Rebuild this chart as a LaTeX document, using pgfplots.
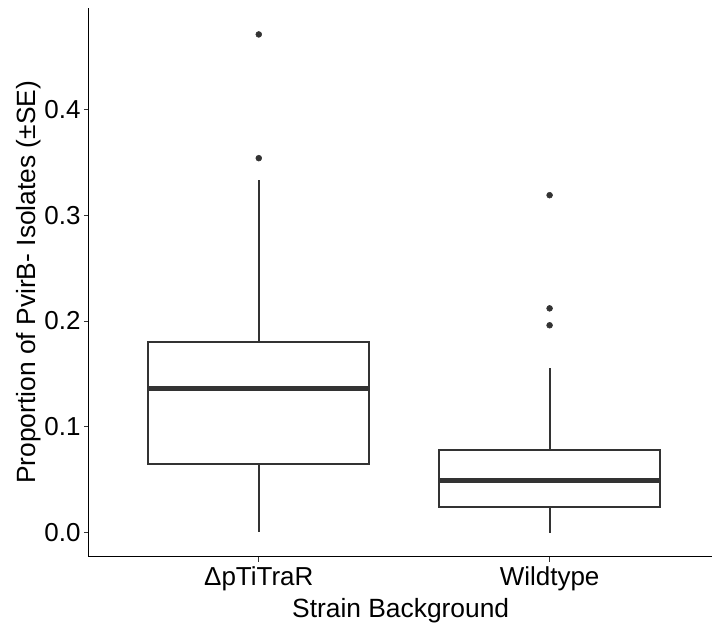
\documentclass[border=0pt]{standalone}
\usepackage{fontspec}
\setmainfont{Liberation Sans}
\usepackage{pgfplots}
\pgfplotsset{compat=1.18}
\usepgfplotslibrary{statistics}
\definecolor{boxgray}{HTML}{333333}
\begin{document}
\begin{tikzpicture}
\begin{axis}[
  scale only axis,
  width=468pt, height=411.75pt,
  xmin=0.416, xmax=2.56,
  ymin=-0.0227, ymax=0.496,
  axis lines=left,
  axis line style={-, line width=0.8pt, black},
  xtick={1,2},
  xticklabels={ΔpTiTraR, Wildtype},
  ytick={0,0.1,0.2,0.3,0.4},
  yticklabel style={xshift=1pt, /pgf/number format/.cd, fixed, fixed zerofill, precision=1},
  /pgf/number format/assume math mode=true,
  tick align=outside,
  major tick length=3.8pt,
  tick style={line width=0.6pt, black!80},
  ticklabel style={font=\fontsize{19.5}{22}\selectfont, text=black},
  xlabel={Strain Background},
  ylabel={Proportion of PvirB- Isolates (±SE)},
  label style={font=\fontsize{19.8}{22}\selectfont},
  xlabel style={yshift=1pt},
  ylabel style={yshift=-4pt},
  clip=false,
  boxplot/draw direction=y,
  boxplot/box extend=0.76,
  boxplot/whisker extend=0,
  boxplot/every box/.style={draw=boxgray, line width=1.5pt, fill=white},
  boxplot/every whisker/.style={draw=boxgray, line width=1.5pt},
  boxplot/every median/.style={draw=boxgray, line width=3.6pt},
]
\addplot[boxplot prepared={
    draw position=1,
    lower whisker=0.001,
    lower quartile=0.065,
    median=0.136,
    upper quartile=0.180,
    upper whisker=0.333},
  mark=*, mark size=2.2pt, mark options={fill=boxgray, draw=boxgray}]
  coordinates {(0,0.354) (0,0.471)};
\addplot[boxplot prepared={
    draw position=2,
    lower whisker=0.000,
    lower quartile=0.024,
    median=0.049,
    upper quartile=0.078,
    upper whisker=0.156},
  mark=*, mark size=2.2pt, mark options={fill=boxgray, draw=boxgray}]
  coordinates {(0,0.196) (0,0.212) (0,0.319)};
\end{axis}
\path[use as bounding box] ([xshift=-66.75pt,yshift=-49.5pt]current axis.south west) rectangle ([yshift=6pt]current axis.north east);
\end{tikzpicture}
\end{document}
